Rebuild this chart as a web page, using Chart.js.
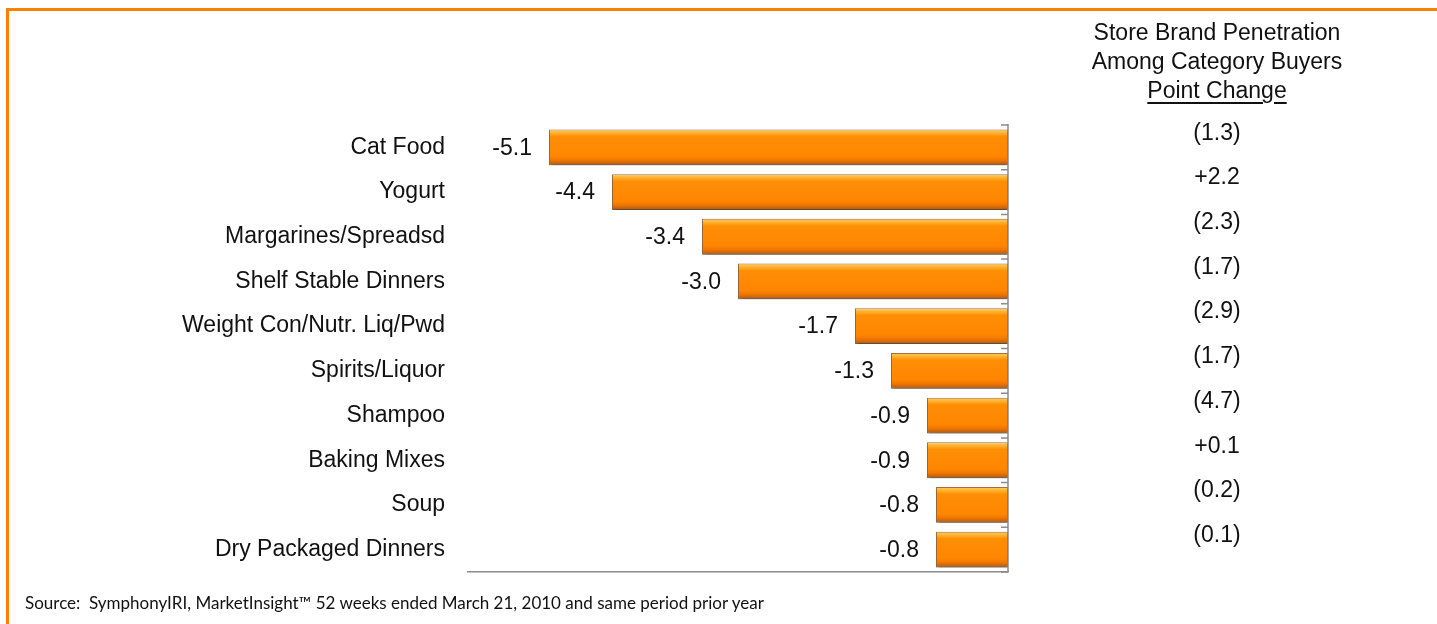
<!DOCTYPE html>
<html>
<head>
<meta charset="utf-8">
<title>Store Brand Penetration</title>
<script src="https://cdn.jsdelivr.net/npm/chart.js@4.4.1/dist/chart.umd.min.js"></script>
<style>
  body { margin: 0; background: #fff; overflow: hidden; }
  #wrap { position: relative; width: 1437px; height: 624px; }
  #frame { position: absolute; left: 6px; top: 8px; right: 0; bottom: 0;
           border-top: 3px solid #FF8000; border-left: 3px solid #FF8000; }
  #chart { position: absolute; left: 0; top: 0; }
  #head { position: absolute; left: 1017px; width: 400px; top: 18px; text-align: center;
          font: 23px "Liberation Sans", Arial, sans-serif; line-height: 29px; color: #111; }
  #head u { text-underline-offset: 4px; text-decoration-thickness: 2px; }
  #source { position: absolute; left: 25px; top: 592px;
            font: 17px Lato, "Liberation Sans", sans-serif; color: #111; }
</style>
</head>
<body>
<div id="wrap">
  <div id="frame"></div>
  <canvas id="chart" width="1437" height="624"></canvas>
  <div id="head">Store Brand Penetration<br>Among Category Buyers<br><u>Point Change</u></div>
  <div id="source">Source:&nbsp; SymphonyIRI, MarketInsight™ 52 weeks ended March 21, 2010 and same period prior year</div>
</div>
<script>
var categories = ["Cat Food", "Yogurt", "Margarines/Spreadsd", "Shelf Stable Dinners",
  "Weight Con/Nutr. Liq/Pwd", "Spirits/Liquor", "Shampoo", "Baking Mixes", "Soup",
  "Dry Packaged Dinners"];
var shareChange = [-5.1, -4.4, -3.4, -3.0, -1.7, -1.3, -0.9, -0.9, -0.8, -0.8];
var penetrationChange = [-1.3, 2.2, -2.3, -1.7, -2.9, -1.7, -4.7, 0.1, -0.2, -0.1];

var FONT = '23px "Liberation Sans", Arial, sans-serif';

// bevelled orange fill, one gradient per bar
function barFill(context) {
  var chart = context.chart;
  var area = chart.chartArea;
  if (!area) return "#FF8A00";
  var yScale = chart.scales.y;
  var y = yScale.getPixelForValue(context.dataIndex);
  var h = (area.bottom - area.top) / categories.length * 0.8;
  var g = chart.ctx.createLinearGradient(0, y - h / 2, 0, y + h / 2);
  g.addColorStop(0, "#FFD060");
  g.addColorStop(0.1, "#FFB030");
  g.addColorStop(0.2, "#FF8E05");
  g.addColorStop(0.75, "#FF8600");
  g.addColorStop(0.86, "#F07600");
  g.addColorStop(0.95, "#C26512");
  g.addColorStop(1, "#965624");
  return g;
}

function fmtPoint(v) {
  return v > 0 ? "+" + v.toFixed(1) : "(" + Math.abs(v).toFixed(1) + ")";
}

var extras = {
  id: "extras",
  beforeDatasetDraw: function(chart) {
    var ctx = chart.ctx;
    ctx.save();
    ctx.shadowColor = "rgba(0,0,0,0.38)";
    ctx.shadowBlur = 3;
    ctx.shadowOffsetX = 1;
    ctx.shadowOffsetY = 3;
  },
  afterDatasetDraw: function(chart) {
    chart.ctx.restore();
  },
  afterDatasetsDraw: function(chart) {
    var ctx = chart.ctx;
    var area = chart.chartArea;
    var xScale = chart.scales.x;
    var yScale = chart.scales.y;
    var x0 = xScale.getPixelForValue(0);
    var step = (area.bottom - area.top) / categories.length;

    // value axis at zero with ticks between categories
    ctx.save();
    ctx.strokeStyle = "#8C8C8C";
    ctx.lineWidth = 1.5;
    ctx.beginPath();
    ctx.moveTo(x0, area.top - 1);
    ctx.lineTo(x0, area.bottom);
    for (var k = 0; k <= categories.length; k++) {
      var ty = area.top + k * step;
      ctx.moveTo(x0 - 7, ty);
      ctx.lineTo(x0, ty);
    }
    ctx.stroke();

    // bar values and penetration column
    ctx.font = FONT;
    ctx.fillStyle = "#111";
    ctx.textBaseline = "middle";
    var meta = chart.getDatasetMeta(0);
    meta.data.forEach(function(bar, i) {
      ctx.textAlign = "right";
      ctx.fillText(shareChange[i].toFixed(1), bar.x - 17, bar.y + 1);
      ctx.textAlign = "center";
      ctx.fillText(fmtPoint(penetrationChange[i]), 1217, yScale.getPixelForValue(i) - 14);
    });
    ctx.restore();
  }
};

new Chart(document.getElementById("chart").getContext("2d"), {
  type: "bar",
  data: {
    labels: categories,
    datasets: [{
      data: shareChange,
      backgroundColor: barFill,
      borderColor: "rgba(150,85,25,0.85)",
      borderWidth: 1,
      borderSkipped: false,
      barPercentage: 0.8,
      categoryPercentage: 1
    }]
  },
  options: {
    indexAxis: "y",
    responsive: false,
    animation: false,
    layout: { padding: { left: 0, right: 429, top: 125, bottom: 52 } },
    plugins: { legend: { display: false }, tooltip: { enabled: false } },
    scales: {
      x: {
        min: -6,
        max: 0,
        grid: { display: false, drawTicks: false },
        border: { display: true, color: "#8C8C8C", width: 1.5 },
        ticks: { display: false },
        afterFit: function(s) { s.height = 0; }
      },
      y: {
        grid: { display: false, drawTicks: false },
        border: { display: false },
        ticks: { color: "#111", font: { family: '"Liberation Sans", Arial, sans-serif', size: 23 }, padding: 23 },
        afterFit: function(s) { s.width = 468; }
      }
    }
  },
  plugins: [extras]
});
</script>
</body>
</html>
